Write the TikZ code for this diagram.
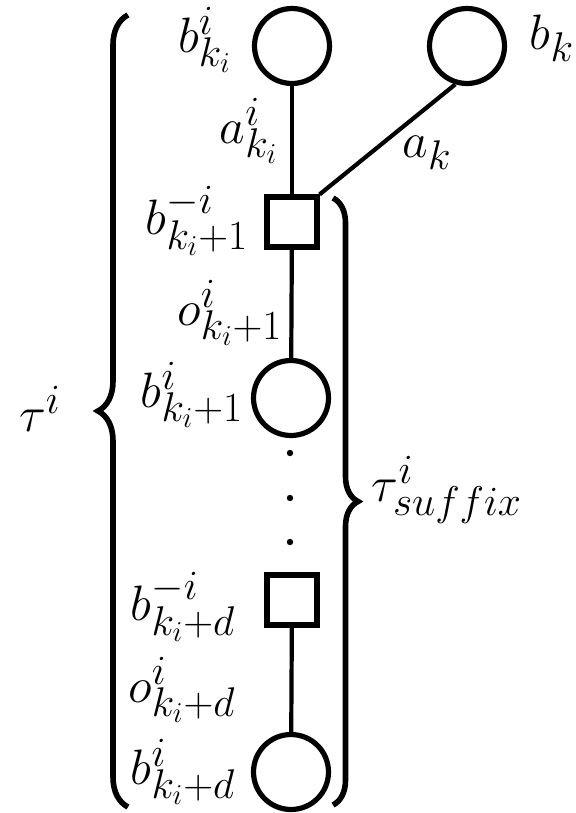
\documentclass[tikz,border=0pt]{standalone}
\usetikzlibrary{decorations.pathreplacing}
\begin{document}
\begin{tikzpicture}[x=0.5pt,y=-0.5pt,
  lbl/.style={inner sep=0pt,font=\fontsize{31}{37}\selectfont},
  circ/.style={circle,draw,line width=2.6pt,minimum size=37.5pt,inner sep=0pt},
  sq/.style={rectangle,draw,line width=2.6pt,minimum size=25pt,inner sep=0pt},
  conn/.style={line width=2.1pt},
  dotnode/.style={circle,fill,inner sep=0pt,minimum size=3.2pt},
  bracestyle/.style={decorate,decoration={brace,amplitude=#1},line width=2.8pt}]
\useasboundingbox (0,0) rectangle (575,813);
% nodes
\node[circ] (c1) at (292,46) {};
\node[circ] (c2) at (467,46) {};
\node[sq] (s1) at (292,222) {};
\node[circ] (c3) at (291,398) {};
\node[sq] (s2) at (292,600) {};
\node[circ] (c4) at (291,772) {};
\node[dotnode] (d1) at (290,453) {};
\node[dotnode] (d2) at (290,498) {};
\node[dotnode] (d3) at (290,542) {};
% connectors
\draw[conn] (c1) -- (s1);
\draw[conn] (c2.-107) -- (s1.north east);
\draw[conn] (s1) -- (c3);
\draw[conn] (s2) -- (c4);
% braces
\coordinate (lb1) at (128,807);
\coordinate (lb2) at (128,15);
\coordinate (rb1) at (333,198);
\coordinate (rb2) at (333,805);
\draw[bracestyle=15pt] (lb1) -- (lb2);
\draw[bracestyle=12.5pt] (rb1) -- (rb2);
% labels
\node[lbl] (l1) at (205,40) {$b^{i}_{k_i}$};
\node[lbl] (l2) at (552,38) {$b_k$};
\node[lbl] (l3) at (249,131) {$a^{i}_{k_i}$};
\node[lbl] (l4) at (427,153) {$a_k$};
\node[lbl] (l5) at (197,221) {$b^{-i}_{k_i+1}$};
\node[lbl] (l6) at (230,313) {$o^{i}_{k_i+1}$};
\node[lbl] (l7) at (192,395) {$b^{i}_{k_i+1}$};
\node[lbl] (l8) at (40,409) {$\tau^{i}$};
\node[lbl] (l9) at (447,490) {$\tau^{i}_{suffix}$};
\node[lbl] (l10) at (183,607) {$b^{-i}_{k_i+d}$};
\node[lbl] (l11) at (182,690) {$o^{i}_{k_i+d}$};
\node[lbl] (l12) at (183,772) {$b^{i}_{k_i+d}$};
\end{tikzpicture}
\end{document}
